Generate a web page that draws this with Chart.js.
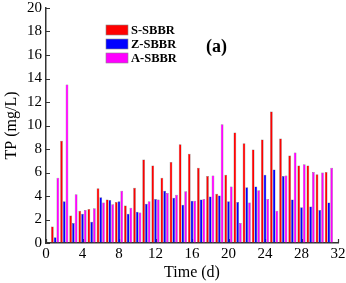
<!DOCTYPE html>
<html>
<head>
<meta charset="utf-8">
<script src="https://cdn.jsdelivr.net/npm/chart.js@4/dist/chart.umd.min.js"></script>
<style>
  html, body { margin: 0; padding: 0; background: #fff; }
  #wrap { position: relative; width: 346px; height: 283px; }
</style>
</head>
<body>
<div id="wrap"><canvas id="tpChart"></canvas></div>
<script>
const days = [1, 2, 3, 4, 5, 6, 7, 8, 9, 10, 11, 12, 13, 14, 15, 16, 17, 18, 19, 20, 21, 22, 23, 24, 25, 26, 27, 28, 29, 30, 31];
const sSBBR = [1.4, 8.7, 2.35, 2.75, 2.9, 4.65, 3.7, 3.5, 3.2, 4.7, 7.1, 6.6, 5.55, 6.9, 8.4, 7.6, 6.4, 5.7, 4.2, 5.8, 9.4, 8.5, 7.95, 8.8, 11.2, 8.9, 7.45, 6.6, 6.6, 5.85, 6.05];
const zSBBR = [0.5, 3.55, 1.7, 2.5, 1.8, 3.9, 3.65, 3.55, 2.5, 2.65, 3.35, 3.75, 4.45, 3.85, 3.25, 3.6, 3.7, 3.95, 4.05, 3.55, 3.5, 4.75, 4.8, 5.8, 6.25, 5.7, 3.7, 3.05, 3.1, 2.8, 3.45];
const aSBBR = [5.55, 13.5, 4.15, 2.8, 2.95, 3.45, 3.3, 4.45, 3.0, 2.6, 3.55, 3.7, 4.25, 4.1, 4.4, 3.6, 3.75, 5.75, 10.1, 4.8, 1.7, 3.45, 4.5, 3.75, 2.75, 5.75, 7.7, 6.7, 6.05, 6.0, 6.4];
const seriesNames = ["S-SBBR", "Z-SBBR", "A-SBBR"];
const seriesColors = ["#ff0000", "#0000ff", "#ff00ff"];
const xTicks = [0, 4, 8, 12, 16, 20, 24, 28, 32];
const yTicks = [0, 2, 4, 6, 8, 10, 12, 14, 16, 18, 20];

const serif = "'Liberation Serif', 'Times New Roman', serif";

const toPoints = (vals) => days.map((d, i) => ({ x: d, y: vals[i] }));

// inward tick marks, drawn under the bars
const inwardTicks = {
  id: "inwardTicks",
  beforeDatasetsDraw(chart) {
    const { ctx, scales, chartArea } = chart;
    ctx.save();
    ctx.strokeStyle = "#333";
    ctx.lineWidth = 1.2;
    ctx.beginPath();
    yTicks.forEach((v) => {
      const y = Math.round(scales.y.getPixelForValue(v)) + 0.5;
      ctx.moveTo(chartArea.left, y);
      ctx.lineTo(chartArea.left + 4, y);
    });
    xTicks.forEach((v) => {
      const x = Math.round(scales.x.getPixelForValue(v)) + 0.5;
      ctx.moveTo(x, chartArea.bottom);
      ctx.lineTo(x, chartArea.bottom - 4);
    });
    ctx.stroke();
    ctx.restore();
  },
};

// legend and panel label inside the plot
const insideLegend = {
  id: "insideLegend",
  afterDraw(chart) {
    const { ctx } = chart;
    ctx.save();
    const rows = [30, 44, 58];
    chart.data.datasets.forEach((ds, i) => {
      ctx.fillStyle = ds.backgroundColor;
      ctx.fillRect(106, rows[i] - 5, 22, 10);
      ctx.strokeStyle = "#888";
      ctx.lineWidth = 0.6;
      ctx.strokeRect(106, rows[i] - 5, 22, 10);
      ctx.fillStyle = "#000";
      ctx.font = `bold 12.5px ${serif}`;
      ctx.textBaseline = "middle";
      ctx.textAlign = "left";
      ctx.fillText(ds.label, 131, rows[i] + 1);
    });
    ctx.font = `bold 18px ${serif}`;
    ctx.textBaseline = "middle";
    ctx.fillText("(a)", 206, 47);
    ctx.restore();
  },
};

new Chart(document.getElementById("tpChart"), {
  type: "bar",
  data: {
    datasets: [sSBBR, zSBBR, aSBBR].map((vals, i) => ({
      label: seriesNames[i],
      data: toPoints(vals),
      backgroundColor: seriesColors[i],
      borderColor: "rgba(90,90,90,0.8)",
      borderWidth: 0.5,
      barPercentage: 1,
      categoryPercentage: 0.9,
    })),
  },
  options: {
    responsive: true,
    maintainAspectRatio: false,
    animation: false,
    layout: { padding: { left: 0, right: 8, top: 8, bottom: 0 } },
    plugins: { legend: { display: false }, tooltip: { enabled: false } },
    scales: {
      x: {
        type: "linear",
        offset: false,
        min: 0,
        max: 32,
        afterBuildTicks: (s) => { s.ticks = xTicks.map((v) => ({ value: v })); },
        afterFit: (s) => {
          s.height = 40;
          s.paddingLeft = 0;
          s.paddingRight = 0;
        },
        ticks: { color: "#000", padding: 2, font: { family: serif, size: 15 } },
        grid: { display: true, drawOnChartArea: false, drawTicks: false, offset: false },
        border: { display: true, color: "#333", width: 1.5 },
        title: {
          display: true,
          text: "Time (d)",
          color: "#000",
          padding: { top: 0, bottom: 1 },
          font: { family: serif, size: 16 },
        },
      },
      y: {
        min: 0,
        max: 20,
        afterBuildTicks: (s) => { s.ticks = yTicks.map((v) => ({ value: v })); },
        afterFit: (s) => {
          s.width = 46;
          s.paddingTop = 0;
          s.paddingBottom = 0;
        },
        ticks: { color: "#000", padding: 4, font: { family: serif, size: 15 } },
        grid: { display: true, drawOnChartArea: false, drawTicks: false },
        border: { display: true, color: "#333", width: 1.5 },
        title: {
          display: true,
          text: "TP (mg/L)",
          color: "#000",
          padding: { top: 2, bottom: 0 },
          font: { family: serif, size: 16 },
        },
      },
    },
  },
  plugins: [inwardTicks, insideLegend],
});
</script>
</body>
</html>
